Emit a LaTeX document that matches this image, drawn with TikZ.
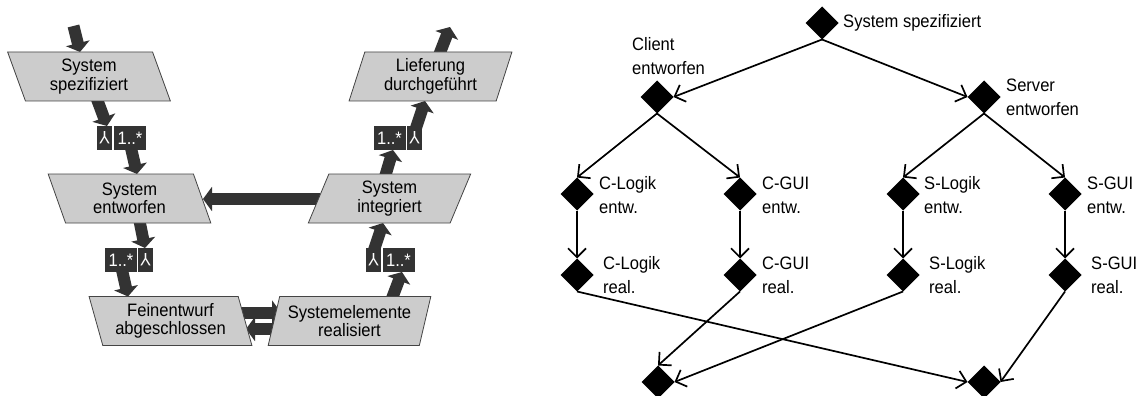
\documentclass[tikz,border=0pt]{standalone}
\usepackage{fontspec}
\setmainfont{Liberation Sans}[FakeStretch=0.92]
\usetikzlibrary{shapes.geometric,arrows.meta,calc,backgrounds}
\definecolor{boxfill}{HTML}{CCCCCC}
\definecolor{boxline}{HTML}{444444}
\definecolor{fatc}{HTML}{333333}
\newcommand{\ty}{\rotatebox[origin=c]{180}{Y}}
\begin{document}
\begin{tikzpicture}[x=1pt,y=-1pt,
  pbox/.style={trapezium, trapezium stretches=true, draw=boxline, fill=boxfill, line width=0.8pt,
    minimum width=163pt, minimum height=49pt, inner sep=1pt, align=center,
    font=\fontsize{18}{18.5}\selectfont},
  lslant/.style={pbox, trapezium left angle=107, trapezium right angle=73},
  rslant/.style={pbox, trapezium left angle=73, trapezium right angle=107},
  tag/.style={fill=fatc, text=white, minimum height=24pt, inner sep=0pt, outer sep=0pt,
    font=\fontsize{18}{18}\selectfont},
  fat/.style={draw=fatc, line width=12pt, -{Triangle[length=9pt,width=24pt]}},
  ev/.style={diamond, fill=black, minimum width=33pt, minimum height=33pt, inner sep=0pt, outer sep=0pt},
  evlab/.style={anchor=west, align=left, inner sep=0pt, font=\fontsize{18}{24}\selectfont},
  flow/.style={draw=black, line width=1.7pt, -{Straight Barb[length=9pt,width=18pt,line width=1.7pt]}}
]
\useasboundingbox (0,0) rectangle (1136,396);

% ---------- left diagram ----------
\node[lslant] (b1) at (89,76.5) {System\\spezifiziert};
\node[lslant] (b2) at (129.5,198.5) {System\\entworfen};
\node[lslant] (b3) at (170.5,321) {Feinentwurf\\abgeschlossen};
\node[rslant] (b4) at (349.5,321) {Systemelemente\\realisiert};
\node[rslant] (b5) at (389.5,198.5) {System\\integriert};
\node[rslant] (b6) at (430.5,76.5) {Lieferung\\durchgeführt};

\node[tag, minimum width=15pt] (l1y) at (104.5,138) {\ty};
\node[tag, minimum width=32pt] (l1n) at (130,138) {1..*};
\node[tag, minimum width=32pt] (l2n) at (121,260) {1..*};
\node[tag, minimum width=15pt] (l2y) at (145.5,260) {\ty};
\node[tag, minimum width=15pt] (l3y) at (373.5,260) {\ty};
\node[tag, minimum width=32pt] (l3n) at (398.5,260) {1..*};
\node[tag, minimum width=32pt] (l4n) at (389.5,138) {1..*};
\node[tag, minimum width=15pt] (l4y) at (414.5,138) {\ty};

\coordinate (in) at (73.5,26);
\coordinate (out) at (450,27);

\begin{scope}[on background layer]
\draw[fat] (in) -- ($(b1.center)+(-9,-24.5)$);
\draw[fat] ($(b1.center)+(7,20)$) -- ($(l1y.center)+(2.5,-12)$);
\draw[fat] ($(l1n.center)+(1,10)$) -- ($(b2.center)+(7.5,-24.5)$);
\draw[fat] ($(b2.center)+(9.5,20)$) -- ($(l2y.center)+(-0.5,-12)$);
\draw[fat] ($(l2n.center)+(1,10)$) -- ($(b3.center)+(-42.5,-24.5)$);
\draw[fat] ($(b3.center)+(66,-8.5)$) -- ($(b4.center)+(-68.5,-8.5)$);
\draw[fat] ($(b4.center)+(-73,8)$) -- ($(b3.center)+(75.5,8)$);
\draw[fat] ($(b4.center)+(41.5,-20)$) -- ($(l3n.center)+(3.5,12)$);
\draw[fat] ($(l3y.center)+(0.5,-10)$) -- ($(b5.center)+(-6.5,24.5)$);
\draw[fat] ($(b5.center)+(-5,-20)$) -- ($(l4n.center)+(3.5,12)$);
\draw[fat] ($(l4y.center)+(1.5,-10)$) -- ($(b6.center)+(-5.5,24.5)$);
\draw[fat] ($(b6.center)+(8,-20)$) -- (out);
\draw[fat] ($(b5.center)+(-70,0.5)$) -- ($(b2.center)+(73.5,0.5)$);
\end{scope}

% ---------- right diagram ----------
\node[ev] (d0) at (822,23) {};
\node[ev] (dc) at (657,97) {};
\node[ev] (ds) at (984,97) {};
\node[ev] (c1) at (577,194) {};
\node[ev] (c2) at (740,194) {};
\node[ev] (s1) at (903,194) {};
\node[ev] (s2) at (1065,194) {};
\node[ev] (c1r) at (577,275) {};
\node[ev] (c2r) at (740,275) {};
\node[ev] (s1r) at (903,275) {};
\node[ev] (s2r) at (1065,275) {};
\node[ev] (bl) at (658,382) {};
\node[ev] (br) at (984,382) {};

\node[evlab] (t0) at (843,23) {System spezifiziert};
\node[evlab] (tc) at (632,56) {Client\\entworfen};
\node[evlab] (ts) at (1006,97) {Server\\entworfen};
\node[evlab] (tc1) at (599,195) {C-Logik\\entw.};
\node[evlab] (tc2) at (762,195) {C-GUI\\entw.};
\node[evlab] (ts1) at (924,195) {S-Logik\\entw.};
\node[evlab] (ts2) at (1087,195) {S-GUI\\entw.};
\node[evlab] (tc1r) at (603,275) {C-Logik\\real.};
\node[evlab] (tc2r) at (762,275) {C-GUI\\real.};
\node[evlab] (ts1r) at (929,275) {S-Logik\\real.};
\node[evlab] (ts2r) at (1091,275) {S-GUI\\real.};

\draw[flow] (d0.south) -- (dc.east);
\draw[flow] (d0.south) -- (ds.west);
\draw[flow] (dc.south) -- (c1.north);
\draw[flow] (dc.south) -- (c2.north);
\draw[flow] (ds.south) -- (s1.north);
\draw[flow] (ds.south) -- (s2.north);
\draw[flow] (c1.south) -- (c1r.north);
\draw[flow] (c2.south) -- (c2r.north);
\draw[flow] (s1.south) -- (s1r.north);
\draw[flow] (s2.south) -- (s2r.north);
\draw[flow] (c1r.south) -- (br.west);
\draw[flow] (c2r.south) -- (bl.north);
\draw[flow] (s1r.south) -- (bl.east);
\draw[flow] (s2r.south) -- (br.east);
\end{tikzpicture}
\end{document}
